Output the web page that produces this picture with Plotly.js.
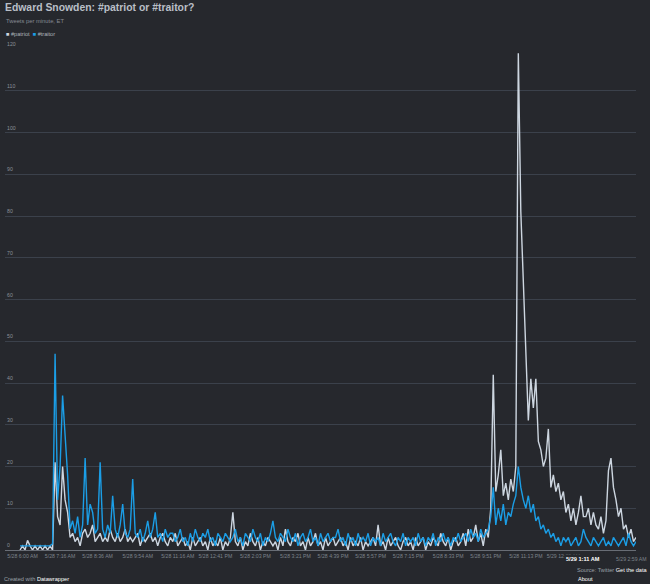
<!DOCTYPE html>
<html>
<head>
<meta charset="utf-8">
<script src="https://cdn.plot.ly/plotly-3.0.1.min.js"></script>
<style>
html,body{margin:0;padding:0;background:#26282d;}
#chart{width:650px;height:584px;}
</style>
</head>
<body>
<div id="chart"></div>
<script>
// Tweets per minute (sampled), ET
const traitor = [
  1,1,1,1,1,1,1,1,1,1, 1,1,1,1.5,47,12,20,37,27,18,
  5,7,4,8,3,6,22,6,11,9, 4,5,21,5,3,6,4,13,5,3,
  6,11,4,3,5,17,4,3,5,2, 4,7,3,5,9,3,4,2,5,3,
  4,4,2,3,5,2,3,1,4,2, 5,3,2,4,3,5,2,3,1,4,
  3,2,4,3,2,3,5,2,3,1, 4,3,2,5,3,2,4,1,3,2,
  4,7,3,2,4,3,2,5,3,2, 4,1,3,4,2,3,5,2,3,1,
  4,2,3,4,2,3,3,5,2,3, 1,4,2,3,1,4,2,3,2,4,
  1,3,2,3,1,4,2,3,4,2, 1,3,2,4,1,3,2,3,1,4,
  2,3,1,3,2,4,1,3,2,4, 2,3,1,3,2,4,2,3,4,2,
  5,3,4,2,5,3,4,5,8,15, 6,10,7,11,6,9,8,11,13,20,
  15,12,10,13,9,11,7,8,5,6, 4,5,3,4,2,3,1,3,2,3,
  1,2,3,1,2,5,3,2,1,3, 2,1,2,3,1,2,1,3,2,1,
  2,3,1,4,2,1,2
];
const patriot = [
  0,1,0,2.3,1,0,1,0,1,0, 1,0,1,0,21,8,6,20,12,9,
  3,4,2,3,1,4,5,3,4,6, 2,3,4,2,3,2,5,3,2,4,
  2,3,5,2,3,2,3,4,1,3, 2,3,4,2,3,1,3,4,2,1,
  3,2,4,1,2,3,1,2,0,3, 1,2,3,1,2,0,3,1,2,1,
  3,0,2,1,3,9,2,1,3,0, 2,1,4,2,1,3,0,2,1,3,
  2,1,2,0,3,1,5,2,1,3, 2,4,1,2,0,3,1,2,4,1,
  2,0,3,1,2,3,1,2,3,1, 2,0,3,1,2,1,3,0,2,1,
  2,3,1,6,1,2,0,3,1,2, 3,1,0,2,3,1,2,0,3,1,
  2,3,0,2,1,3,2,1,4,2, 1,3,0,2,3,1,2,4,1,5,
  2,3,6,2,4,1,5,3,10,42, 14,18,24,13,16,12,17,14,20,119,
  81,63,50,31,41,34,41,26,24,20, 22,29,15,18,14,16,12,14,9,11,
  7,10,6,9,13,8,8,10,6,9, 6,5,8,4,7,19,22,15,12,8,
  10,5,6,3,5,2,3
];
const yTicks = [0,10,20,30,40,50,60,70,80,90,100,110,120];
const tickIdx = [1,16,31,47,63,78,94,110,125,140,155,171,186,202,217];
const tickText = ["5/28 6:00 AM","5/28 7:16 AM","5/28 8:36 AM","5/28 9:54 AM","5/28 11:16 AM",
  "5/28 12:41 PM","5/28 2:03 PM","5/28 3:21 PM","5/28 4:39 PM","5/28 5:57 PM","5/28 7:15 PM",
  "5/28 8:33 PM","5/28 9:51 PM","5/28 11:13 PM","5/29 12:33 AM"];
const lastTickText = "5/29 2:59 AM";
const hoverIdx = 225;
const hoverText = "5/29 1:11 AM";
const seriesNames = ["#patriot","#traitor"];
const colors = {patriot:"#cdd6e0", traitor:"#1b9ee6"};

const xs = traitor.map((_, i) => i);
const FONT = "Liberation Sans, Arial, sans-serif";
const BG = "#26282d";

const traces = [
  {x: xs, y: patriot, type:"scatter", mode:"lines", name:seriesNames[0],
   line:{color:colors.patriot, width:1.4}, hoverinfo:"skip"},
  {x: xs, y: traitor, type:"scatter", mode:"lines", name:seriesNames[1],
   line:{color:colors.traitor, width:1.4}, hoverinfo:"skip"}
];

const annotations = [];
yTicks.forEach(v => {
  annotations.push({xref:"paper", yref:"y", x:0, y:v, xanchor:"left", yanchor:"bottom",
    yshift:0, xshift:0, text:String(v), showarrow:false,
    font:{family:FONT, size:5.2, color:"#8a9099"}});
});
annotations.push({xref:"x", yref:"paper", x:hoverIdx, y:0, yanchor:"top", xanchor:"center",
  yshift:-4, text:"<b>"+hoverText+"</b>", showarrow:false, bgcolor:BG,
  font:{family:FONT, size:5.6, color:"#ffffff"}});
annotations.push({xref:"paper", yref:"paper", x:1, y:0, yanchor:"top", xanchor:"right",
  xshift:13, yshift:-4, text:lastTickText, showarrow:false,
  font:{family:FONT, size:5.2, color:"#7d838b"}});
// title block
annotations.push({xref:"paper", yref:"paper", x:0, y:1, xanchor:"left", yanchor:"bottom",
  yshift:34, xshift:-2, text:"<b>Edward Snowden: #patriot or #traitor?</b>", showarrow:false,
  font:{family:FONT, size:10.4, color:"#b9bfc7"}});
annotations.push({xref:"paper", yref:"paper", x:0, y:1, xanchor:"left", yanchor:"bottom",
  yshift:23, xshift:-1, text:"Tweets per minute, ET", showarrow:false,
  font:{family:FONT, size:5.8, color:"#858b93"}});
annotations.push({xref:"paper", yref:"paper", x:0, y:1, xanchor:"left", yanchor:"bottom",
  yshift:10, xshift:-1,
  text:'<span style="color:'+colors.patriot+'">■</span> '+seriesNames[0]+'  <span style="color:'+colors.traitor+'">■</span> '+seriesNames[1],
  showarrow:false, font:{family:FONT, size:5.6, color:"#aeb4bb"}});
// footer
annotations.push({xref:"paper", yref:"paper", x:0, y:0, xanchor:"left", yanchor:"top",
  xshift:-3, yshift:-24, text:'Created with <span style="color:#ffffff">Datawrapper</span>', showarrow:false,
  font:{family:FONT, size:5.6, color:"#9aa0a7"}});
annotations.push({xref:"paper", yref:"paper", x:1, y:0, xanchor:"right", yanchor:"top",
  xshift:13, yshift:-15, text:'Source: Twitter <span style="color:#ffffff">Get the data</span>', showarrow:false,
  font:{family:FONT, size:5.6, color:"#9aa0a7"}});
annotations.push({xref:"paper", yref:"paper", x:1, y:0, xanchor:"left", yanchor:"top",
  xshift:-60, yshift:-24, text:'<span style="color:#ffffff">About</span>', showarrow:false,
  font:{family:FONT, size:5.6, color:"#9aa0a7"}});

const layout = {
  width:650, height:584,
  paper_bgcolor:BG, plot_bgcolor:BG,
  margin:{l:5, r:14, t:49, b:34},
  showlegend:false,
  xaxis:{range:[-6, 246], showgrid:false, zeroline:false, showline:false,
    tickmode:"array", tickvals:tickIdx, ticktext:tickText, ticks:"", tickangle:0,
    ticklabelstandoff:2,
    tickfont:{family:FONT, size:5.2, color:"#7d838b"}, fixedrange:true},
  yaxis:{range:[0,120], tickmode:"array", tickvals:yTicks, showticklabels:false,
    gridcolor:"#3b414b", gridwidth:1, zeroline:true, zerolinecolor:"#686d75", zerolinewidth:1,
    showline:false, fixedrange:true},
  annotations:annotations
};
Plotly.newPlot("chart", traces, layout, {displayModeBar:false, staticPlot:true});
</script>
</body>
</html>
